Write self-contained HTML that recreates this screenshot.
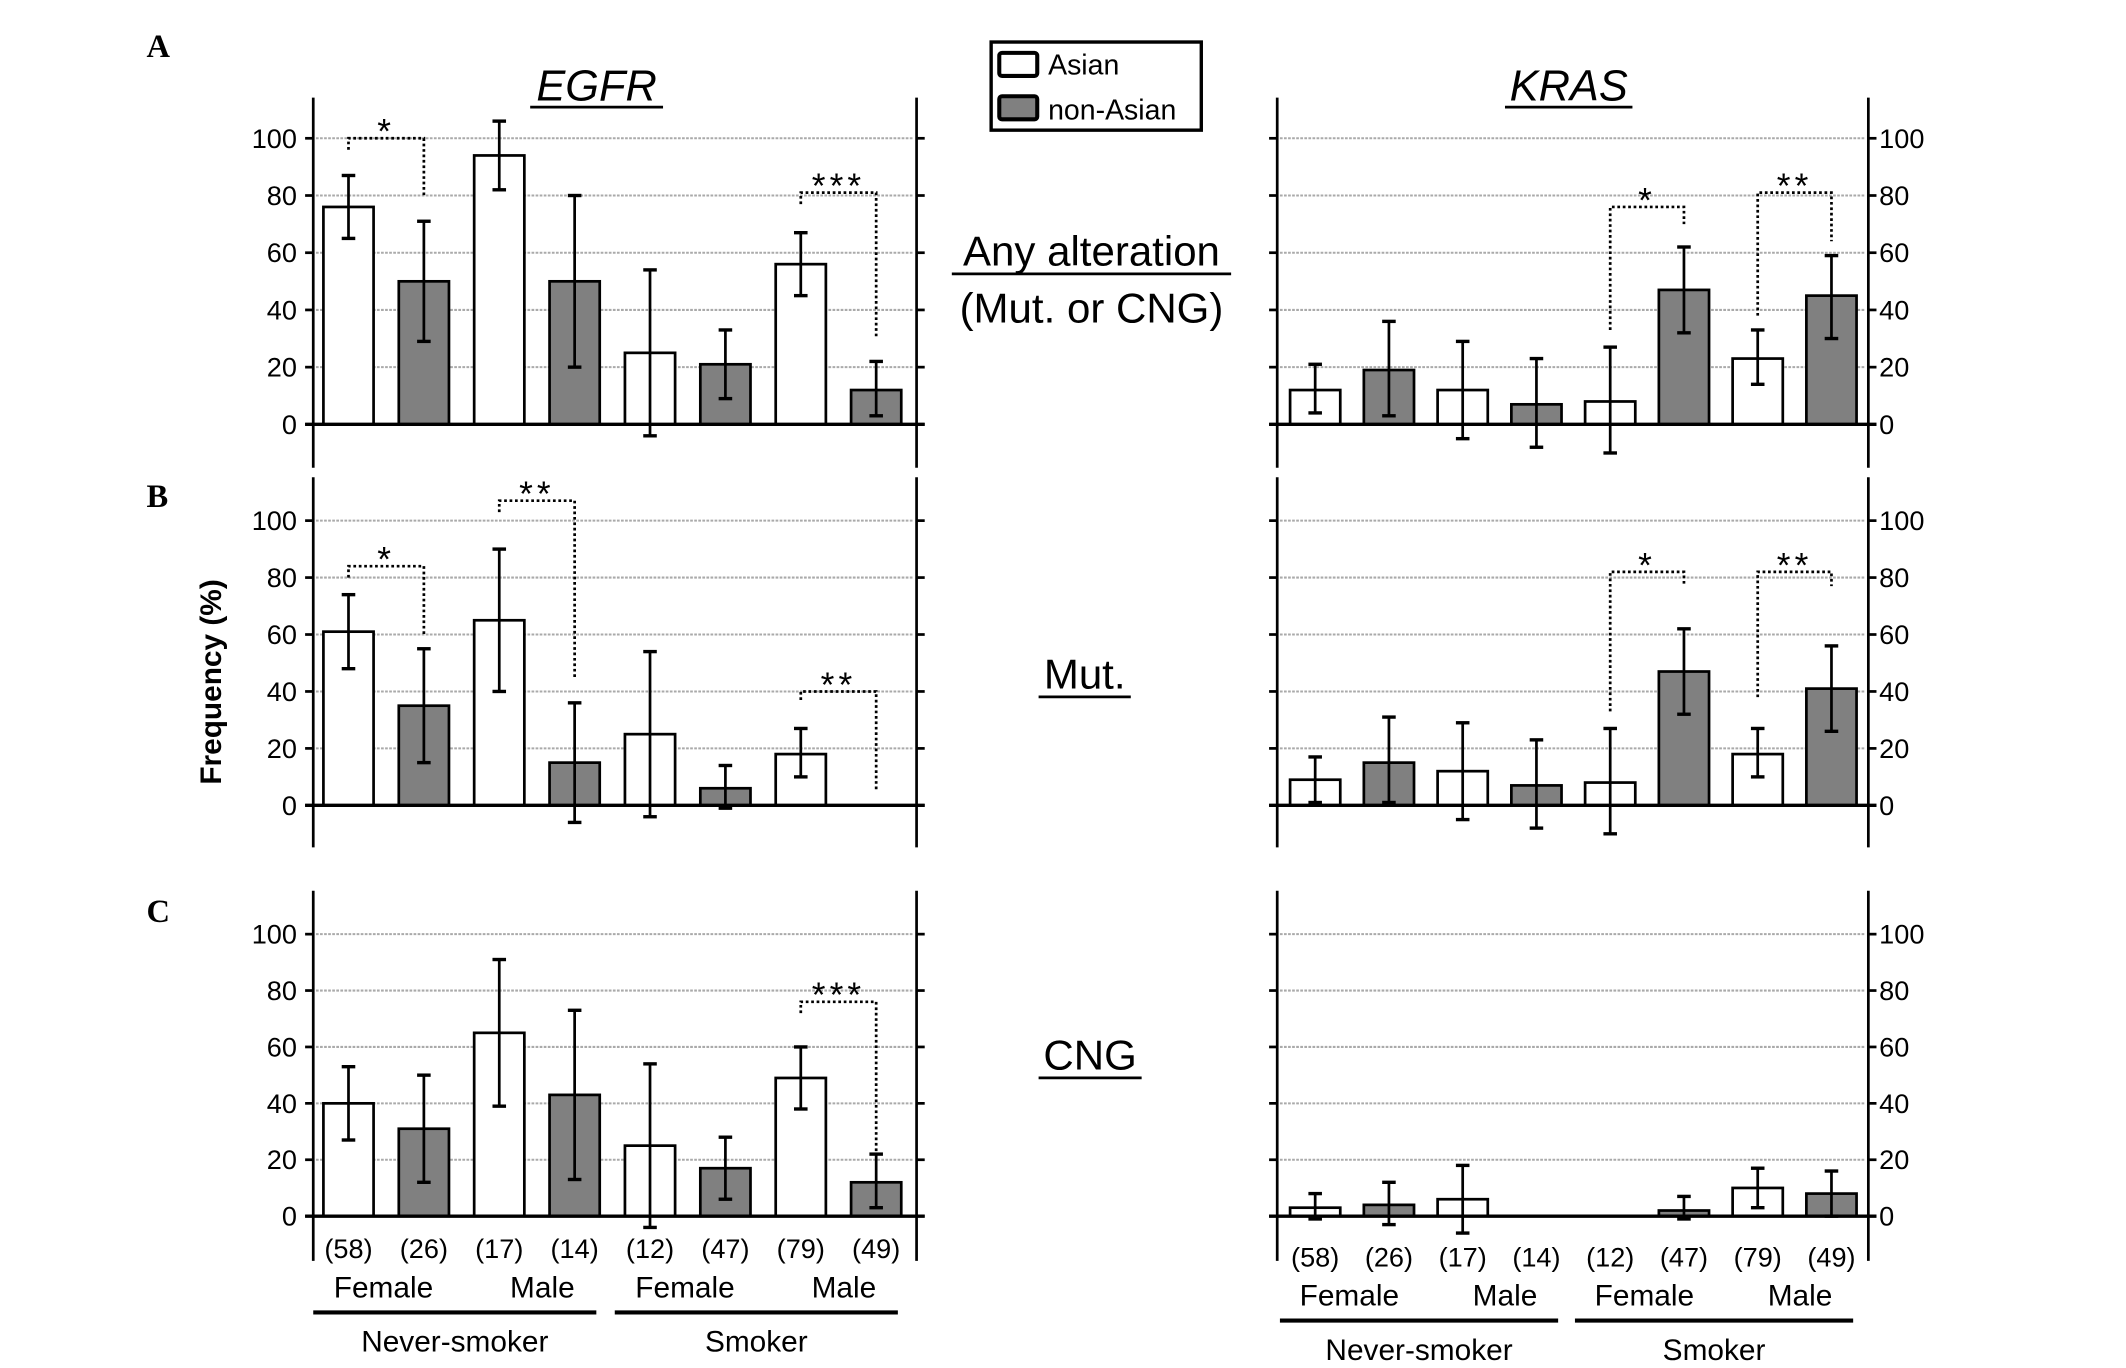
<!DOCTYPE html>
<html><head><meta charset="utf-8"><style>
html,body{margin:0;padding:0;background:#fff;}
svg{display:block;font-family:"Liberation Sans Narrow","Liberation Sans",sans-serif;}
</style></head><body>
<svg id="fig" width="2126" height="1368" viewBox="0 0 1568 1009" xmlns="http://www.w3.org/2000/svg">
<rect width="1568" height="1009" fill="#fff"/>
<text x="108" y="42" font-family="Liberation Serif" font-weight="bold" font-size="24">A</text>
<text x="108" y="374" font-family="Liberation Serif" font-weight="bold" font-size="24">B</text>
<text x="108" y="680" font-family="Liberation Serif" font-weight="bold" font-size="24">C</text>
<text x="440" y="74" text-anchor="middle" font-style="italic" font-size="32" font-family="Liberation Sans">EGFR</text>
<line x1="391" y1="79" x2="489" y2="79" stroke="#000" stroke-width="2"/>
<text x="1157" y="74" text-anchor="middle" font-style="italic" font-size="32" font-family="Liberation Sans">KRAS</text>
<line x1="1110" y1="79" x2="1204" y2="79" stroke="#000" stroke-width="2"/>
<g>
<rect x="731" y="31" width="155" height="65" fill="#fff" stroke="#000" stroke-width="2.5"/>
<rect x="737" y="39" width="28" height="17" fill="#fff" stroke="#000" stroke-width="3" rx="2"/>
<text x="773" y="55" font-size="21" font-family="Liberation Sans">Asian</text>
<rect x="737" y="71" width="28" height="17" fill="#808080" stroke="#000" stroke-width="3" rx="2"/>
<text x="773" y="88" font-size="21" font-family="Liberation Sans">non-Asian</text>
</g>
<text x="805" y="196" text-anchor="middle" font-size="31">Any alteration</text>
<line x1="702" y1="202" x2="908" y2="202" stroke="#000" stroke-width="2"/>
<text x="805" y="238" text-anchor="middle" font-size="31">(Mut. or CNG)</text>
<text x="800" y="508" text-anchor="middle" font-size="31">Mut.</text>
<line x1="766" y1="514" x2="834" y2="514" stroke="#000" stroke-width="2"/>
<text x="804" y="789" text-anchor="middle" font-size="31">CNG</text>
<line x1="766" y1="795" x2="842" y2="795" stroke="#000" stroke-width="2"/>
<text transform="translate(163,503) rotate(-90)" text-anchor="middle" font-size="22" font-weight="bold" font-family="Liberation Sans">Frequency (%)</text>
</svg>
<script>
// values: order = F-never Asian, F-never nonAsian, M-never Asian, M-never nonAsian, F-smoker Asian, F-smoker nonAsian, M-smoker Asian, M-smoker nonAsian
const egfrAny = [76, 50, 94, 50, 25, 21, 56, 12];
const egfrAnyLo = [65, 29, 82, 20, -4, 9, 45, 3];
const egfrAnyHi = [87, 71, 106, 80, 54, 33, 67, 22];
const krasAny = [12, 19, 12, 7, 8, 47, 23, 45];
const krasAnyLo = [4, 3, -5, -8, -10, 32, 14, 30];
const krasAnyHi = [21, 36, 29, 23, 27, 62, 33, 59];
const egfrMut = [61, 35, 65, 15, 25, 6, 18, 0];
const egfrMutLo = [48, 15, 40, -6, -4, -1, 10, null];
const egfrMutHi = [74, 55, 90, 36, 54, 14, 27, null];
const krasMut = [9, 15, 12, 7, 8, 47, 18, 41];
const krasMutLo = [1, 1, -5, -8, -10, 32, 10, 26];
const krasMutHi = [17, 31, 29, 23, 27, 62, 27, 56];
const egfrCng = [40, 31, 65, 43, 25, 17, 49, 12];
const egfrCngLo = [27, 12, 39, 13, -4, 6, 38, 3];
const egfrCngHi = [53, 50, 91, 73, 54, 28, 60, 22];
const krasCng = [3, 4, 6, 0, 0, 2, 10, 8];
const krasCngLo = [-1, -3, -6, null, null, -1, 3, 0];
const krasCngHi = [8, 12, 18, null, null, 7, 17, 16];
const yTicks = [0, 20, 40, 60, 80, 100];
const sampleSizes = ["(58)", "(26)", "(17)", "(14)", "(12)", "(47)", "(79)", "(49)"];
const sexLabels = ["Female", "Male", "Female", "Male"];
const smokeLabels = ["Never-smoker", "Smoker"];
// significance brackets: [barA, barB, bracketValue, leftLegEnd, rightLegEnd, label]
const sigEgfrAny = [[0, 1, 100, 96, 80, "*"], [6, 7, 81, 77, 30, "***"]];
const sigKrasAny = [[4, 5, 76, 33, 70, "*"], [6, 7, 81, 38, 64, "**"]];
const sigEgfrMut = [[0, 1, 84, 80, 60, "*"], [2, 3, 107, 103, 45, "**"], [6, 7, 40, 37, 5, "**"]];
const sigKrasMut = [[4, 5, 82, 33, 77, "*"], [6, 7, 82, 38, 77, "**"]];
const sigEgfrCng = [[6, 7, 76, 72, 22, "***"]];
const sigKrasCng = [];

const NS = "http://www.w3.org/2000/svg";
const svg = document.getElementById("fig");
function mk(tag, attrs, parent) {
  const e = document.createElementNS(NS, tag);
  for (const k in attrs) e.setAttribute(k, attrs[k]);
  (parent || svg).appendChild(e);
  return e;
}
function panel(name, side, top, y0, y100, vals, lo, hi, sigs) {
  const g = mk("g", {});
  
  
  const L = side === "egfr" ? 231 : 942, R = side === "egfr" ? 676 : 1378;
  const first = side === "egfr" ? 257 : 970, step = side === "egfr" ? 55.6 : 54.4;
  const bw = 37;
  const y = v => y0 - (y0 - y100) * v / 100;
  const xc = i => first + i * step;
  const bottom = top + 273;
  yTicks.forEach(t => {
    if (t > 0) {
      const gl = mk("line", {x1: L + 2, x2: R - 2, y1: y(t), y2: y(t), stroke: "#aaa", "stroke-width": 1.5, "stroke-dasharray": "2 1"}, g);
      
      
    }
    mk("line", {x1: L - 6, x2: L, y1: y(t), y2: y(t), stroke: "#000", "stroke-width": 2}, g);
    mk("line", {x1: R, x2: R + 6, y1: y(t), y2: y(t), stroke: "#000", "stroke-width": 2}, g);
    const tl = mk("text", {x: side === "egfr" ? L - 12 : R + 8, y: y(t) + 7, "text-anchor": side === "egfr" ? "end" : "start", "font-size": 20}, g);
    tl.textContent = t;
    
    
  });
  mk("line", {x1: L, x2: L, y1: top, y2: bottom, stroke: "#000", "stroke-width": 2}, g);
  mk("line", {x1: R, x2: R, y1: top, y2: bottom, stroke: "#000", "stroke-width": 2}, g);
  vals.forEach((v, i) => {
    if (v > 0) {
      const b = mk("rect", {x: xc(i) - bw / 2, y: y(v), width: bw, height: y(0) - y(v), fill: i % 2 ? "#808080" : "#fff", stroke: "#000", "stroke-width": 2}, g);
      
      
    }
  });
  mk("line", {x1: L - 6, x2: R + 6, y1: y(0), y2: y(0), stroke: "#000", "stroke-width": 2.5}, g);
  vals.forEach((v, i) => {
    if (lo[i] === null) return;
    const e = mk("g", {stroke: "#000", "stroke-width": 2}, g);
    
    
    mk("line", {x1: xc(i), x2: xc(i), y1: y(lo[i]), y2: y(hi[i])}, e);
    mk("line", {x1: xc(i) - 5, x2: xc(i) + 5, y1: y(lo[i]), y2: y(lo[i]), "stroke-width": 2.5}, e);
    mk("line", {x1: xc(i) - 5, x2: xc(i) + 5, y1: y(hi[i]), y2: y(hi[i]), "stroke-width": 2.5}, e);
  });
  sigs.forEach(s => {
    const a = xc(s[0]), b = xc(s[1]);
    const p = mk("polyline", {points: `${a},${y(s[3])} ${a},${y(s[2])} ${b},${y(s[2])} ${b},${y(s[4])}`, fill: "none", stroke: "#000", "stroke-width": 2, "stroke-dasharray": "2 2"}, g);
    
    
    const t = mk("text", {x: (a + b) / 2, y: y(s[2]) + 4, "text-anchor": "middle", "font-size": 26, "letter-spacing": 3}, g);
    t.textContent = s[5];
    
    
  });
  return {L, R, xc};
}
panel("egfr-any-alteration-chart", "egfr", 72, 313, 102, egfrAny, egfrAnyLo, egfrAnyHi, sigEgfrAny);
panel("kras-any-alteration-chart", "kras", 72, 313, 102, krasAny, krasAnyLo, krasAnyHi, sigKrasAny);
panel("egfr-mutation-chart", "egfr", 352, 594, 384, egfrMut, egfrMutLo, egfrMutHi, sigEgfrMut);
panel("kras-mutation-chart", "kras", 352, 594, 384, krasMut, krasMutLo, krasMutHi, sigKrasMut);
const pe = panel("egfr-cng-chart", "egfr", 657, 897, 689, egfrCng, egfrCngLo, egfrCngHi, sigEgfrCng);
const pk = panel("kras-cng-chart", "kras", 657, 897, 689, krasCng, krasCngLo, krasCngHi, sigKrasCng);
[[pe, 935], [pk, 941]].forEach(([p, ny]) => {
  const base = ny - 7;
  sampleSizes.forEach((s, i) => {
    const t = mk("text", {x: p.xc(i), y: base, "text-anchor": "middle", "font-size": 20});
    t.textContent = s;
    
    
  });
  sexLabels.forEach((s, j) => {
    const cx = (p.xc(2 * j) + p.xc(2 * j + 1)) / 2 + (j % 2 ? 4 : -2);
    const t = mk("text", {x: cx, y: base + 29, "text-anchor": "middle", "font-size": 22});
    t.textContent = s;
    
    
  });
  smokeLabels.forEach((s, j) => {
    const x1 = p.xc(4 * j) - 26, x2 = p.xc(4 * j + 3) + 16;
    mk("line", {x1: x1, x2: x2, y1: base + 40, y2: base + 40, stroke: "#000", "stroke-width": 3});
    const t = mk("text", {x: (x1 + x2) / 2, y: base + 69, "text-anchor": "middle", "font-size": 22});
    t.textContent = s;
    
    
  });
});
</script>
</body></html>
